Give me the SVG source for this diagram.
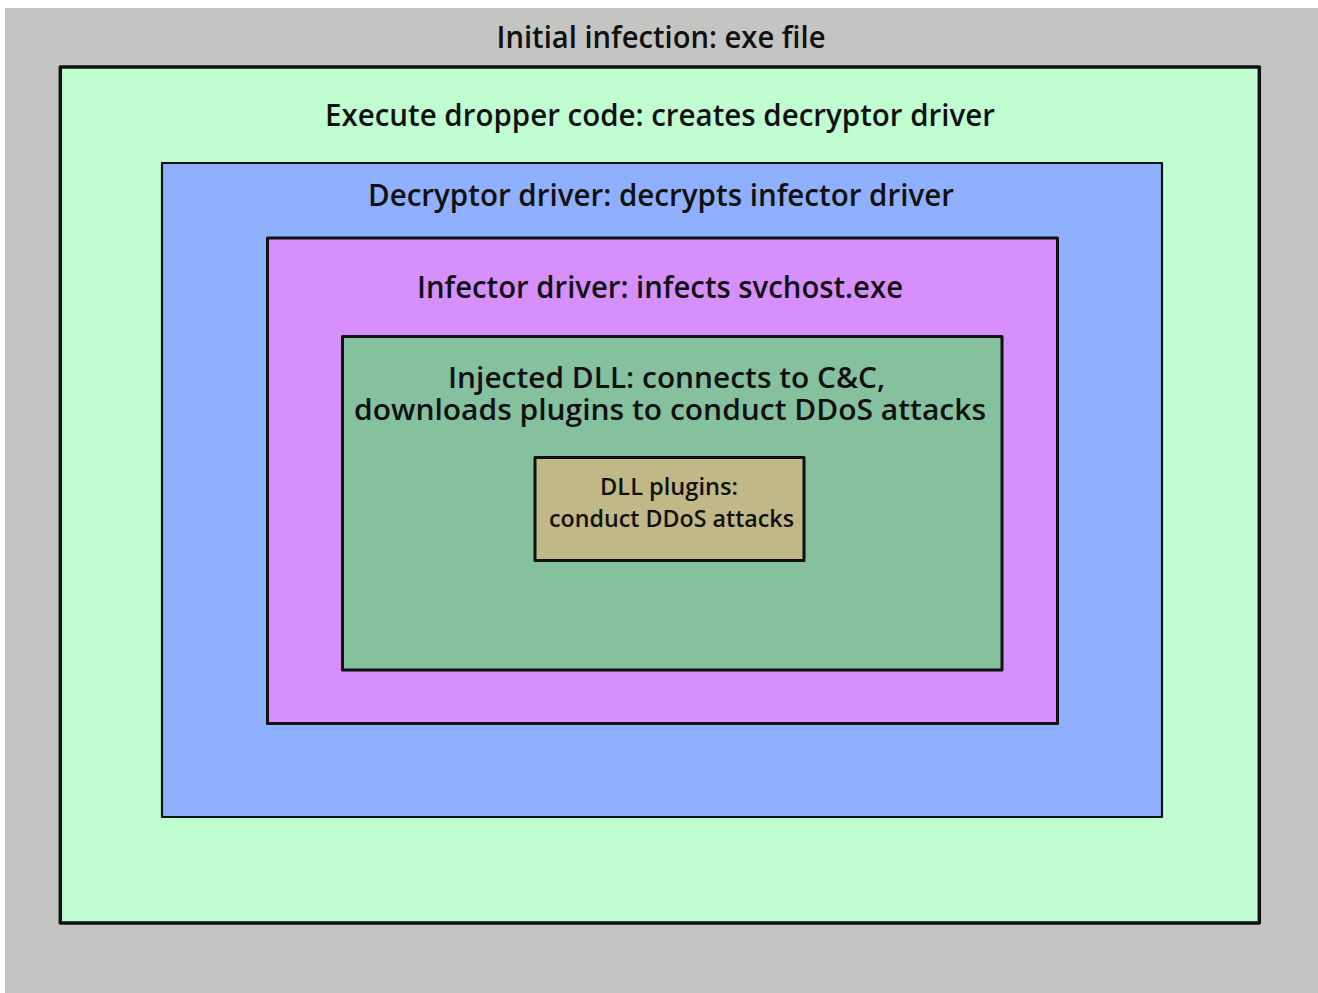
<svg xmlns="http://www.w3.org/2000/svg" width="1318" height="993" viewBox="0 0 1318 993">
<style>
.box{stroke:#111;stroke-linejoin:round}
.t{font-family:"Open Sans","Noto Sans","Liberation Sans",sans-serif;font-weight:600;fill:#111;text-anchor:middle}
.big{font-size:31px}
.mid{font-size:29px}
.small{font-size:23px}
</style>
<rect x="0" y="0" width="1318" height="993" fill="#ffffff"/>
<g id="initial">
<rect x="5" y="8" width="1313" height="985" fill="#c4c4c2"/>
<text class="t big" x="661" y="48" textLength="329" lengthAdjust="spacingAndGlyphs">Initial infection: exe file</text>
</g>
<g id="dropper">
<rect class="box" x="60.3" y="67" width="1199" height="856" fill="#c0fdd0" stroke-width="3.5"/>
<text class="t big" x="660" y="126" textLength="670" lengthAdjust="spacingAndGlyphs">Execute dropper code: creates decryptor driver</text>
</g>
<g id="decryptor">
<rect class="box" x="162" y="163" width="1000" height="654" fill="#8fafff" stroke="#1a1f33" stroke-width="2.2"/>
<text class="t big" x="661" y="206" textLength="586" lengthAdjust="spacingAndGlyphs">Decryptor driver: decrypts infector driver</text>
</g>
<g id="infector">
<rect class="box" x="267.5" y="238" width="790" height="485.5" fill="#d78ffe" stroke-width="3"/>
<text class="t big" x="660" y="298" textLength="486" lengthAdjust="spacingAndGlyphs">Infector driver: infects svchost.exe</text>
</g>
<g id="injected">
<rect class="box" x="342.5" y="336.5" width="659.5" height="333.5" fill="#85c19e" stroke-width="3"/>
<text class="t mid" x="666.5" y="388" textLength="437" lengthAdjust="spacingAndGlyphs">Injected DLL: connects to C&amp;C,</text>
<text class="t mid" x="670" y="419.5" textLength="632" lengthAdjust="spacingAndGlyphs">downloads plugins to conduct DDoS attacks</text>
</g>
<g id="plugins">
<rect class="box" x="535" y="457.5" width="269" height="103" fill="#c0b887" stroke-width="3"/>
<text class="t small" x="669" y="495" textLength="138" lengthAdjust="spacingAndGlyphs">DLL plugins:</text>
<text class="t small" x="671.5" y="527" textLength="245" lengthAdjust="spacingAndGlyphs">conduct DDoS attacks</text>
</g>
<g id="connectors"></g>
</svg>
